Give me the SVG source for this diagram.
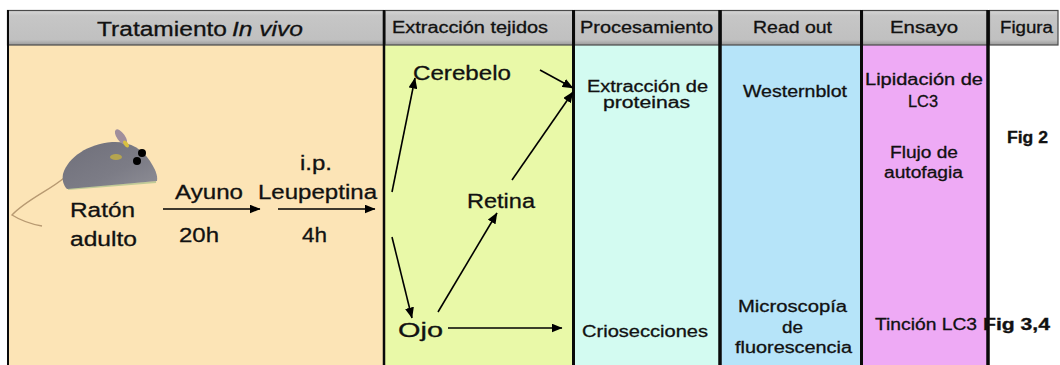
<svg xmlns="http://www.w3.org/2000/svg" width="1060" height="365" viewBox="0 0 1060 365">
  <style>
    text { font-family: "Liberation Sans", Arial, sans-serif; fill: #111; stroke: #111; stroke-width: 0.3; }
    .hd { font-size: 16px; }
    .big { font-size: 20px; }
    .md { font-size: 16px; }
    .fig { font-size: 16px; font-weight: bold; }
    .hcell { fill: url(#hdrGrad); stroke: #4a4a4a; stroke-width: 1.2; }
    .sep { stroke: #0a0a0a; }
    .arr { stroke: #000; stroke-width: 1.6; fill: none; marker-end: url(#head); }
  </style>
  <defs>
    <linearGradient id="hdrGrad" x1="0" y1="0" x2="0" y2="1">
      <stop offset="0" stop-color="#d6d6d6"/>
      <stop offset="0.15" stop-color="#c6c6c6"/>
      <stop offset="0.85" stop-color="#c0c0c0"/>
      <stop offset="1" stop-color="#9a9a9a"/>
    </linearGradient>
    <linearGradient id="mouseGrad" x1="0" y1="0" x2="1" y2="1">
      <stop offset="0" stop-color="#6f6f7a"/>
      <stop offset="0.6" stop-color="#7c7c86"/>
      <stop offset="1" stop-color="#8e8e96"/>
    </linearGradient>
    <marker id="head" markerUnits="userSpaceOnUse" markerWidth="11" markerHeight="9" refX="10.5" refY="4.5" orient="auto">
      <path d="M0,0 L11,4.5 L0,9 Z" fill="#000"/>
    </marker>
  </defs>

  <!-- column bodies -->
  <g id="columns">
    <rect x="8" y="45" width="376" height="320" fill="#fce4b6"/>
    <rect x="384" y="45" width="190" height="320" fill="#e9f9a8"/>
    <rect x="574" y="45" width="146" height="320" fill="#d3fbf1"/>
    <rect x="720" y="45" width="142" height="320" fill="#b6e4f9"/>
    <rect x="862" y="45" width="126" height="320" fill="#eeaaf5"/>
    <rect x="988" y="45" width="72" height="320" fill="#ffffff"/>
  </g>

  <!-- header cells -->
  <g id="headers">
    <rect class="hcell" x="7.5" y="10.5" width="376" height="34.5"/>
    <rect class="hcell" x="385" y="10.5" width="188" height="34.5"/>
    <rect class="hcell" x="574.5" y="10.5" width="145" height="34.5"/>
    <rect class="hcell" x="721" y="10.5" width="140" height="34.5"/>
    <rect class="hcell" x="862.5" y="10.5" width="125" height="34.5"/>
    <rect class="hcell" x="989.5" y="10.5" width="68.5" height="34.5"/>
    <text class="big" x="97" y="35.5" textLength="130" lengthAdjust="spacingAndGlyphs">Tratamiento</text>
    <text class="big" x="232" y="35.5" font-style="italic" textLength="71" lengthAdjust="spacingAndGlyphs">In vivo</text>
    <text class="hd" x="392" y="33" textLength="156" lengthAdjust="spacingAndGlyphs">Extracción tejidos</text>
    <text class="hd" x="580" y="33" textLength="133" lengthAdjust="spacingAndGlyphs">Procesamiento</text>
    <text class="hd" x="753" y="33" textLength="79" lengthAdjust="spacingAndGlyphs">Read out</text>
    <text class="hd" x="890" y="33" textLength="68" lengthAdjust="spacingAndGlyphs">Ensayo</text>
    <text class="hd" x="1000" y="33" textLength="53" lengthAdjust="spacingAndGlyphs">Figura</text>
  </g>

  <!-- column separators -->
  <g id="separators" class="sep">
    <line x1="8" y1="10" x2="8" y2="365" stroke-width="2"/>
    <line x1="384" y1="10" x2="384" y2="365" stroke-width="2.5"/>
    <line x1="573.5" y1="10" x2="573.5" y2="365" stroke-width="3"/>
    <line x1="720" y1="10" x2="720" y2="365" stroke-width="3.5"/>
    <line x1="861.5" y1="10" x2="861.5" y2="365" stroke-width="3"/>
    <line x1="988" y1="10" x2="988" y2="365" stroke-width="3.5"/>
  </g>

  <!-- mouse -->
  <g id="mouse">
    <path d="M64,178 C50,190 26,200 12,215 C20,220 30,224 42,226" fill="none" stroke="#b89a72" stroke-width="1.4"/>
    <path d="M68,189 L156,182" stroke="#a8c08a" stroke-width="2" opacity="0.7"/>
    <path d="M63,174 C68,157 88,144 112,142 C130,141 142,149 150,161 C155,169 158,175 157,181 L67,189 C63,185 62,179 63,174 Z" fill="url(#mouseGrad)"/>
    <ellipse cx="121" cy="137" rx="4" ry="9" transform="rotate(-35 121 137)" fill="#a08e9c"/>
    <ellipse cx="126" cy="144" rx="2" ry="4" transform="rotate(-35 126 144)" fill="#d8c040"/>
    <ellipse cx="116" cy="157" rx="6" ry="3" fill="#c9b43e" opacity="0.75"/>
    <circle cx="142" cy="153" r="4" fill="#000"/>
    <circle cx="137" cy="161" r="4" fill="#000"/>
  </g>

  <!-- treatment labels -->
  <g id="n-raton">
    <text class="big" x="70" y="217" textLength="65" lengthAdjust="spacingAndGlyphs">Ratón</text>
    <text class="big" x="70" y="246" textLength="67" lengthAdjust="spacingAndGlyphs">adulto</text>
  </g>
  <g id="n-ayuno">
    <text class="big" x="175" y="199" textLength="68" lengthAdjust="spacingAndGlyphs">Ayuno</text>
    <text class="big" x="179" y="242" textLength="40" lengthAdjust="spacingAndGlyphs">20h</text>
  </g>
  <g id="n-leupeptina">
    <text class="big" x="300" y="170" textLength="32" lengthAdjust="spacingAndGlyphs">i.p.</text>
    <text class="big" x="258" y="199" textLength="119" lengthAdjust="spacingAndGlyphs">Leupeptina</text>
    <text class="big" x="302" y="242" textLength="25" lengthAdjust="spacingAndGlyphs">4h</text>
  </g>

  <!-- tissues -->
  <g id="n-cerebelo"><text class="big" x="413" y="80" textLength="98" lengthAdjust="spacingAndGlyphs">Cerebelo</text></g>
  <g id="n-retina"><text class="big" x="467" y="208" textLength="68" lengthAdjust="spacingAndGlyphs">Retina</text></g>
  <g id="n-ojo"><text class="big" x="398" y="337" textLength="45" lengthAdjust="spacingAndGlyphs">Ojo</text></g>

  <!-- processing -->
  <g id="n-extraccion">
    <text class="md" x="587" y="92" textLength="121" lengthAdjust="spacingAndGlyphs">Extracción de</text>
    <text class="md" x="603" y="108" textLength="87" lengthAdjust="spacingAndGlyphs">proteinas</text>
  </g>
  <g id="n-criosecciones"><text class="md" x="582" y="337" textLength="126" lengthAdjust="spacingAndGlyphs">Criosecciones</text></g>

  <!-- read out -->
  <g id="n-westernblot"><text class="md" x="743" y="97" textLength="104" lengthAdjust="spacingAndGlyphs">Westernblot</text></g>
  <g id="n-microscopia">
    <text class="md" x="738" y="312" textLength="109" lengthAdjust="spacingAndGlyphs">Microscopía</text>
    <text class="md" x="782" y="333" textLength="21" lengthAdjust="spacingAndGlyphs">de</text>
    <text class="md" x="735" y="353" textLength="117" lengthAdjust="spacingAndGlyphs">fluorescencia</text>
  </g>

  <!-- assays -->
  <g id="n-lipidacion">
    <text class="md" x="865" y="85" textLength="118" lengthAdjust="spacingAndGlyphs">Lipidación de</text>
    <text class="md" x="908" y="107" textLength="30" lengthAdjust="spacingAndGlyphs">LC3</text>
  </g>
  <g id="n-flujo">
    <text class="md" x="890" y="158" textLength="68" lengthAdjust="spacingAndGlyphs">Flujo de</text>
    <text class="md" x="884" y="178" textLength="79" lengthAdjust="spacingAndGlyphs">autofagia</text>
  </g>
  <g id="n-tincion"><text class="md" x="875" y="330" textLength="102" lengthAdjust="spacingAndGlyphs">Tinción LC3</text></g>

  <!-- figures -->
  <g id="n-fig2"><text class="fig" x="1007" y="143" textLength="41" lengthAdjust="spacingAndGlyphs">Fig 2</text></g>
  <g id="n-fig34"><text class="fig" x="983" y="330" textLength="67" lengthAdjust="spacingAndGlyphs">Fig 3,4</text></g>

  <!-- connectors -->
  <g id="connectors">
    <line class="arr" x1="163" y1="209" x2="260" y2="209"/>
    <line class="arr" x1="278" y1="209" x2="375" y2="209"/>
    <line class="arr" x1="392" y1="192" x2="415" y2="78"/>
    <line class="arr" x1="392" y1="237" x2="412" y2="318"/>
    <line class="arr" x1="540" y1="70" x2="573" y2="88"/>
    <line class="arr" x1="512" y1="180" x2="573" y2="92"/>
    <line class="arr" x1="438" y1="312" x2="497" y2="213"/>
    <line class="arr" x1="448" y1="328" x2="562" y2="328"/>
  </g>
</svg>
